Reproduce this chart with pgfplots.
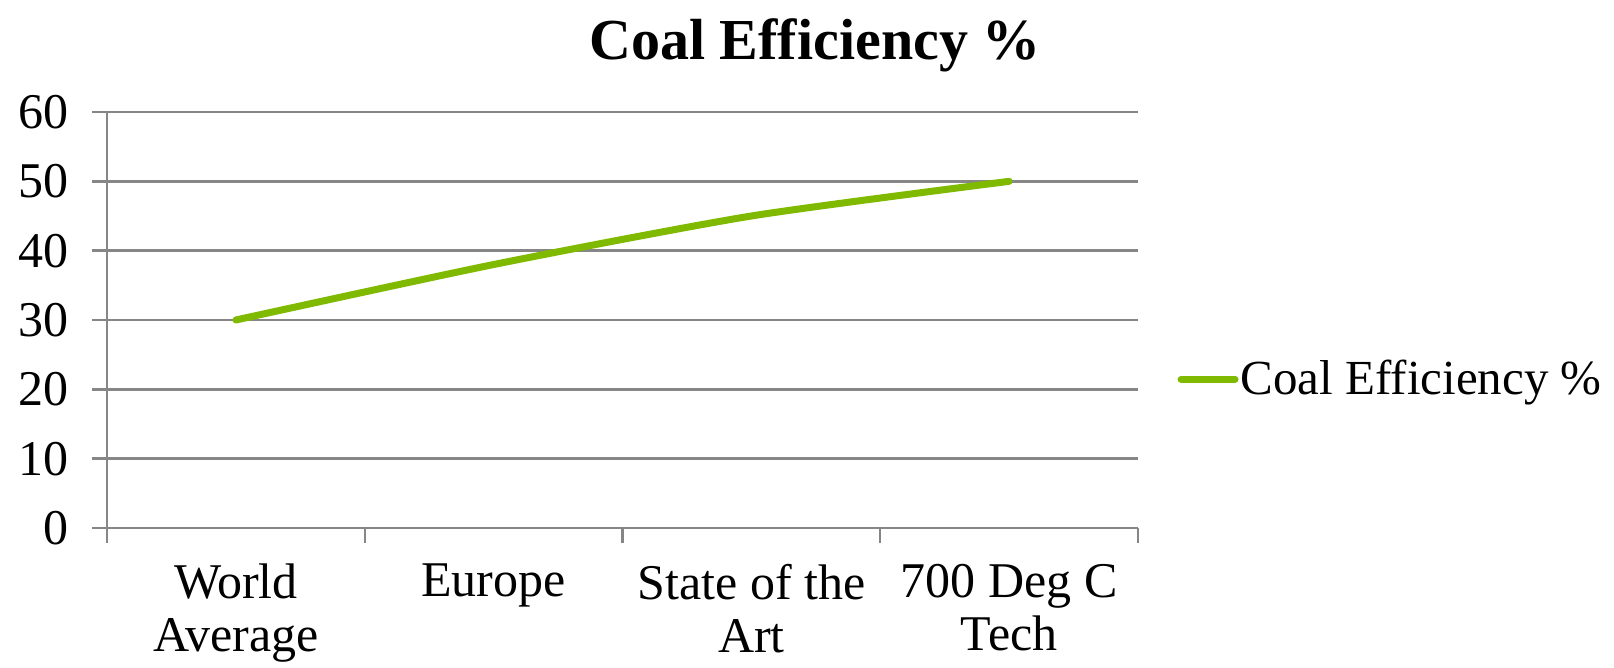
\documentclass[border=0pt]{standalone}
\usepackage{pgfplots}
\pgfplotsset{compat=1.18}
\usepackage{fontspec}
\setmainfont{Liberation Serif}
\definecolor{linegreen}{RGB}{127,186,0}
\definecolor{gridgray}{RGB}{134,134,134}
\begin{document}
\begin{tikzpicture}
\path[use as bounding box] (-53.5pt,-70pt) rectangle (753.5pt,264pt);
\begin{axis}[
  at={(0,0)}, anchor=south west,
  scale only axis,
  width=515.5pt, height=208pt,
  xmin=-0.5, xmax=3.5,
  ymin=0, ymax=60,
  ytick={0,10,...,60},
  xtick={0,1,2,3},
  xticklabels={{World\\Average},{Europe},{State of the\\Art},{700 Deg C\\Tech}},
  minor xtick={-0.5,0.5,1.5,2.5,3.5},
  axis x line*=bottom, axis y line*=left,
  axis line style={-, gridgray, line width=1.2pt},
  ymajorgrids,
  major grid style={gridgray, line width=1.2pt},
  tick align=outside,
  major x tick style={draw=none},
  minor x tick style={draw=gridgray, line width=1.2pt},
  minor tick length=7.5pt,
  ytick style={gridgray, line width=1.2pt},
  major tick length=7.5pt,
  tick label style={font=\fontsize{25}{28}\selectfont},
  xticklabel style={align=center, yshift=-7pt, font=\fontsize{25}{26.5}\selectfont},
  yticklabel style={xshift=-8pt},
  /pgf/number format/assume math mode=true,
  legend style={at={(1.038,0.358)}, anchor=west, draw=none, fill=none, inner sep=0pt,
    font=\fontsize{24.5}{27}\selectfont,
    nodes={inner sep=1pt}},
  legend cell align=left,
  legend image code/.code={\draw[#1, line cap=round] (0pt,0pt) -- (27pt,0pt);},
  clip=false,
]
\addplot[linegreen, line width=3.5pt, smooth, tension=0.4, line cap=round] coordinates {
  (0,30) (1,38) (2,45) (3,50)
};
\addlegendentry{Coal Efficiency \%}
\end{axis}
\node[anchor=base, font=\bfseries\fontsize{29}{34}\selectfont] at (354pt,234pt) {Coal Efficiency \%};
\end{tikzpicture}
\end{document}
